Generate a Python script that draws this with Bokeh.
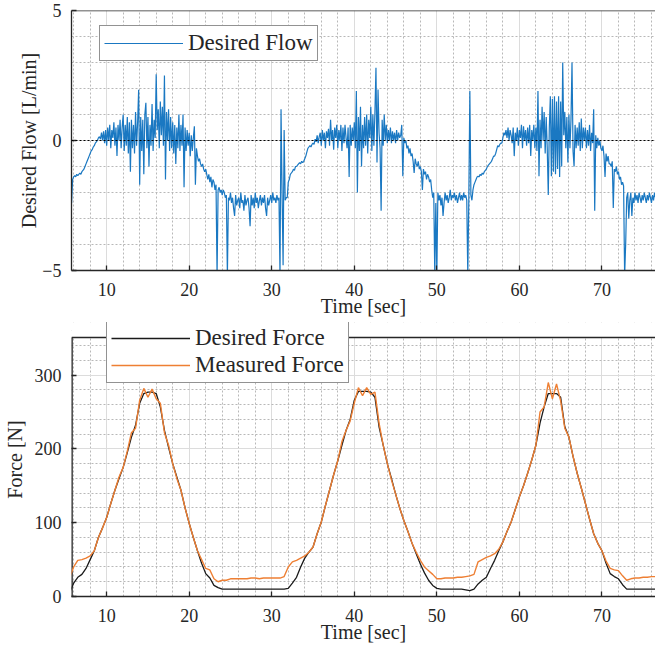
from bokeh.plotting import figure
from bokeh.models import (ColumnDataSource, Legend, LegendItem, Range1d,
                          SingleIntervalTicker, Span, BoxAnnotation)
from bokeh.layouts import column
from bokeh.embed import file_html
from bokeh.resources import INLINE

FONT = "Liberation Serif"

# ---------------- data ----------------
FLOW_T0 = 5.75
FLOW_DT = 0.125
FLOW = [
    -2.4, -1.5,
    -1.4, -1.35, -1.4, -1.3, -1.35, -1.3, -1.25, -1.3,          # 6
    -1.2, -1.15, -1.1, -1.0, -0.9, -0.8, -0.7, -0.6,            # 7
    -0.5, -0.4, -0.35, -0.25, -0.2, -0.1, -0.05, 0.0,           # 8
    0.1, 0.15, 0.05, 0.3, 0.0, 0.35, -0.1, 0.4,                 # 9
    -0.2, 0.5, 0.0, 0.6, -0.3, 0.4, 0.1, 0.7,                   # 10
    -0.2, 0.5, -0.6, 0.6, 0.0, 0.8, -0.3, 0.5,                  # 11
    1.0, -0.4, 0.6, -0.2, 0.9, -0.5, 0.7, -1.2,                 # 12
    0.8, -0.3, 0.6, -0.5, 1.1, -0.2, 0.7, 1.95,                 # 13
    -1.7, 0.9, -0.4, 0.8, -1.3, 1.0, 1.45, -0.3,                # 14
    0.9, -1.0, 0.6, -0.2, 1.4, -0.4, 0.8, 0.1,                  # 15
    2.55, 0.4, 1.2, -0.3, 1.5, 0.2, 1.3, -0.2,                  # 16
    2.5, -1.5, 1.1, 0.0, 1.2, -0.4, 0.9, -0.3,                  # 17
    0.7, -0.5, 0.6, -0.9, 0.5, -0.3, 1.0, -0.4,                 # 18
    0.6, -0.2, 1.0, -1.8, 0.5, -0.4, 0.4, -0.2,                 # 19
    0.3, -0.6, 0.2, -0.4, 0.1, 0.55, -1.7, -0.3,                # 20
    -0.6, -0.8, -0.7, -0.9, -1.0, -0.9, -1.1, -1.2,             # 21
    -1.1, -1.3, -1.5, -1.3, -1.6, -1.4, -1.8, -1.5,             # 22
    -1.6, -1.9, -1.7, -5.2, -1.9, -1.8, -2.0, -1.9,             # 23
    -2.1, -1.9, -2.0, -2.2, -2.1, -5.2, -2.2, -2.3,             # 24
    -2.0, -2.4, -2.2, -2.6, -2.9, -2.1, -2.5, -2.3,             # 25
    -2.2, -2.6, -2.0, -2.4, -2.3, -2.7, -2.1, -2.5,             # 26
    -2.3, -2.2, -2.6, -3.3, -2.1, -2.5, -2.2, -2.6,             # 27
    -2.0, -2.4, -2.2, -2.6, -2.3, -2.1, -2.5, -2.2,             # 28
    -2.4, -2.1, -2.6, -2.9, -2.2, -2.5, -2.3, -2.1,             # 29
    -2.4, -2.0, -2.3, -2.2, -2.4, -2.1, -2.3, -2.2,             # 30
    -5.2, 1.2, -2.0, -4.8, 0.4, -2.3, -2.2, -2.2,               # 31
    -1.6, -1.5, -1.3, -1.25, -1.2, -1.1, -1.15, -1.0,           # 32
    -1.0, -0.95, -0.9, -0.85, -0.9, -0.8, -0.85, -0.8,          # 33
    -0.7, -0.6, -0.45, -0.3, -0.25, -0.2, -0.25, -0.15,         # 34
    -0.1, -0.15, 0.05, -0.05, 0.2, -0.1, 0.15, 0.3,             # 35
    -0.2, 0.4, 0.0, 0.3, -0.3, 0.35, 0.1, 0.45,                 # 36
    -0.2, 0.8, 0.0, 0.4, -0.35, 0.5, 0.1, 0.6,                  # 37
    -0.3, 0.4, 0.0, 0.6, -0.4, 0.5, -0.1, 0.6,                  # 38
    0.1, -0.3, 0.5, -1.4, 0.6, -0.2, 0.5, 0.0,                  # 39
    0.7, -0.3, 1.9, -2.0, 0.9, -0.4, 1.3, -1.0,                 # 40
    0.6, -0.3, 0.9, -0.2, 1.0, -0.5, 0.8, 0.1,                  # 41
    1.3, -0.4, 1.0, -0.2, 1.1, 2.8, -0.85, 1.96,                # 42
    0.3, -0.3, -2.7, 0.8, -0.2, 1.0, 0.0, 0.6,                  # 43
    -0.1, 0.4, 0.0, 0.5, -0.1, 0.35, 0.0, 0.3,                  # 44
    -0.1, 0.4, 0.0, 0.3, 0.1, 0.2, 0.6, -1.37,                  # 45
    0.1, -0.1, 0.0, -0.3, -0.2, -0.5, -0.3, -0.6,               # 46
    -0.5, -0.8, -1.25, -0.7, -0.9, -1.0, -0.8, -1.1,            # 47
    -1.0, -1.2, -1.9, -1.1, -1.3, -1.2, -1.5, -1.3,             # 48
    -1.4, -1.6, -1.5, -1.9, -2.2, -2.0, -5.2, -2.4,             # 49
    -5.2, -2.0, -2.3, -2.1, -2.5, -2.2, -2.9, -2.4,             # 50
    -2.0, -2.3, -2.1, -2.4, -2.2, -1.9, -2.3, -2.1,             # 51
    -2.2, -2.0, -2.3, -2.1, -2.4, -2.2, -2.0, -2.3,             # 52
    -2.1, -2.3, -2.0, -2.2, -2.1, -2.3, -5.2, -2.2,             # 53
    1.9, -2.1, -2.3, -1.9, -1.7, -1.6, -1.5, -1.4,              # 54
    -1.37, -1.4, -1.3, -1.35, -1.25, -1.3, -1.2, -1.15,         # 55
    -1.1, -1.0, -0.95, -0.9, -0.85, -0.8, -0.7, -0.6,           # 56
    -0.6, -0.5, -0.35, -0.2, -0.25, -0.15, -0.1, -0.1,          # 57
    0.1, 0.3, 0.2, 0.4, 0.1, 0.5, 0.0, 0.4,                     # 58
    0.2, -0.1, 0.5, -0.6, 0.3, 0.0, 0.5, -0.2,                  # 59
    0.4, 0.1, 0.6, -0.3, 0.55, 0.0, 0.4, -0.2,                  # 60
    0.5, -0.1, 0.6, -0.6, 0.4, 0.0, 0.6, -0.3,                  # 61
    0.5, -0.4, 1.9, -1.37, 0.8, -0.3, 1.3, 0.0,                 # 62
    1.1, -0.5, 0.9, -0.3, -2.1, 0.5, 1.7, -1.37,                # 63
    1.6, -1.2, 1.7, -1.3, 1.5, -1.1, 1.7, -1.4,                 # 64
    1.5, -1.0, 3.0, 0.2, 1.1, -0.3, 0.9, -0.85,                 # 65
    1.0, -0.3, 0.8, 3.0, -0.4, -1.0, 0.6, -0.3,                 # 66
    0.5, -0.2, 0.7, -0.4, 0.85, -0.3, 0.5, 0.0,                 # 67
    0.5, -0.3, 0.4, -0.2, 0.6, -0.4, 0.3, -0.1,                 # 68
    1.2, -2.7, 0.2, -0.3, 0.1, -0.2, 0.0, -0.3,                 # 69
    -0.4, -0.2, -0.6, -1.4, -0.5, -0.8, -0.6, -0.9,             # 70
    -0.9, -1.0, -0.8, -2.6, -1.1, -1.2, -1.0, -1.3,             # 71
    -1.2, -1.5, -1.4, -1.7, -1.6, -1.75, -5.2, -4.0,            # 72
    -2.2, -2.0, -3.0, -2.3, -2.0, -2.9, -2.2, -2.4,             # 73
    -2.0, -2.3, -2.1, -2.4, -2.0, -2.2, -2.4, -2.1,             # 74
    -2.3, -2.0, -2.2, -2.4, -2.1, -2.3, -2.0, -2.2,             # 75
    -2.4, -2.1, -2.3, -2.0, -2.2, -2.4, -2.1, -2.3,             # 76
    -2.2,
]

FORCE_T0 = 5.5
FORCE_DT = 0.5
DESIRED_FORCE = [
    5,
    18, 26, 30, 38, 50, 62, 80, 93, 107, 126,          # 6-10
    144, 160, 175, 195, 216, 232, 262, 275, 277, 277,  # 11-15
    275, 257, 225, 202, 180, 162, 144, 120, 99, 80,    # 16-20
    62, 45, 31, 25, 15, 12, 10, 10, 10, 10,            # 21-25
    10, 10, 10, 10, 10, 10, 10, 10, 10, 10,            # 26-30
    10, 10, 11, 18, 26, 40, 52, 60, 67, 85,            # 31-35
    101, 123, 144, 165, 184, 205, 225, 240, 266, 278,  # 36-40
    278, 278, 277, 270, 230, 205, 180, 160, 139, 120,  # 41-45
    103, 88, 72, 58, 44, 32, 22, 15, 11, 10,           # 46-50
    10, 10, 10, 10, 10, 9, 8, 10, 17, 22,              # 51-55
    26, 38, 49, 62, 74, 88, 101, 118, 135, 150,        # 56-60
    167, 185, 205, 235, 257, 275, 275, 275, 270, 230,  # 61-65
    216, 190, 167, 147, 126, 105, 85, 72, 62, 45,      # 66-70
    31, 27, 24, 16, 10, 10, 10, 10, 10, 10,            # 71-75
    10, 10, 10,                                        # 76-77
]
MEASURED_FORCE = [
    25,
    40, 49, 50, 52, 55, 62, 80, 93, 107, 126,          # 6-10
    144, 162, 175, 197, 222, 228, 266, 282, 270, 281,  # 11-15
    268, 262, 222, 205, 180, 160, 144, 120, 99, 80,    # 16-20
    62, 50, 38, 36, 24, 20, 22, 22, 24, 24,            # 21-25
    24, 24, 24, 25, 25, 24, 25, 25, 25, 25,            # 26-30
    25, 27, 40, 47, 49, 52, 55, 60, 67, 85,            # 31-35
    101, 123, 144, 165, 184, 210, 225, 238, 262, 283,  # 36-40
    272, 283, 274, 277, 235, 205, 180, 158, 139, 120,  # 41-45
    103, 88, 72, 60, 49, 40, 35, 30, 24, 24,           # 46-50
    25, 25, 25, 26, 26, 27, 28, 30, 47, 50,            # 51-55
    53, 55, 58, 64, 74, 88, 101, 118, 135, 150,        # 56-60
    167, 185, 205, 250, 257, 290, 268, 288, 265, 228,  # 61-65
    216, 190, 167, 147, 126, 105, 85, 72, 62, 48,      # 66-70
    38, 36, 35, 28, 22, 24, 25, 25, 26, 26,            # 71-75
    27, 27, 27,                                        # 76-77
]

X_RANGE = (5.74, 76.49)
FLOW_RANGE = (-5, 5)
FORCE_TOP = 351          # top edge of the force axes box
FORCE_VIEW = (0, 371.3)  # a little head-room so the legend can sit over the box edge

flow_src = ColumnDataSource(dict(
    t=[FLOW_T0 + FLOW_DT * i for i in range(len(FLOW))], v=FLOW))
force_src = ColumnDataSource(dict(
    t=[FORCE_T0 + FORCE_DT * i for i in range(len(DESIRED_FORCE))],
    d=DESIRED_FORCE, m=MEASURED_FORCE))

AX = "#262626"


def style(p, y_interval):
    p.outline_line_color = None
    p.background_fill_color = "white"
    p.border_fill_color = "white"
    p.xaxis.ticker = SingleIntervalTicker(interval=10, num_minor_ticks=5)
    p.yaxis.ticker = SingleIntervalTicker(interval=y_interval, num_minor_ticks=5)
    for ax in (p.xaxis[0], p.yaxis[0]):
        ax.axis_line_color = AX
        ax.axis_line_width = 1.3
        ax.major_tick_line_color = AX
        ax.major_tick_line_width = 1.3
        ax.major_tick_in = 5
        ax.major_tick_out = 0
        ax.minor_tick_line_color = None
        ax.major_label_text_font = FONT
        ax.major_label_text_font_size = "18px"
        ax.major_label_text_color = "#262626"
        ax.axis_label_text_font = FONT
        ax.axis_label_text_font_size = "20px"
        ax.axis_label_text_font_style = "normal"
        ax.axis_label_text_color = "#262626"
    p.xaxis.major_label_standoff = 8
    p.xaxis.axis_label_standoff = -4
    p.yaxis.major_label_standoff = 6
    for g in (p.xgrid[0], p.ygrid[0]):
        g.grid_line_color = "#dcdcdc"
        g.grid_line_width = 1
        g.minor_grid_line_color = "#b8b8b8"
        g.minor_grid_line_dash = "2 2"
        g.minor_grid_line_width = 1


def legend(p, items, loc):
    lg = Legend(items=items, location=loc, margin=0, padding=4, spacing=1,
                glyph_width=79, glyph_height=18, label_standoff=5,
                label_text_font=FONT, label_text_font_size="23px",
                label_text_color="#262626", label_height=18,
                border_line_color=AX, border_line_width=1.3,
                background_fill_color="white", background_fill_alpha=1)
    p.add_layout(lg, "center")


# ---------------- top plot ----------------
p1 = figure(width=655, height=320, output_backend="svg", toolbar_location=None,
            x_range=Range1d(*X_RANGE), y_range=Range1d(*FLOW_RANGE),
            min_border_top=10, min_border_left=69, min_border_right=0,
            min_border_bottom=50)
style(p1, 5)
p1.yaxis.axis_label_standoff = -1
p1.below[0].axis_label = "Time [sec]"
p1.left[0].axis_label = "Desired Flow [L/min]"
p1.add_layout(Span(location=FLOW_RANGE[1], dimension="width", line_color=AX,
                   line_width=1.3))
p1.add_layout(Span(location=0, dimension="width", line_color="black",
                   line_dash="2 2", line_width=1.2))
r_flow = p1.line("t", "v", source=flow_src, line_color="#1a78c2", line_width=1.2)
legend(p1, [LegendItem(label="Desired Flow", renderers=[r_flow])], (28, 209))

# ---------------- bottom plot ----------------
p2 = figure(width=655, height=326, output_backend="svg", toolbar_location=None,
            x_range=Range1d(*X_RANGE), y_range=Range1d(*FORCE_VIEW),
            min_border_top=2, min_border_left=69, min_border_right=0,
            min_border_bottom=50)
style(p2, 100)
p2.yaxis.axis_label_standoff = 6
p2.left[0].axis_line_color = None
p2.below[0].axis_label = "Time [sec]"
p2.left[0].axis_label = "Force [N]"
# left edge of the box, only up to its top (frame-clipped, so half of it shows)
p2.segment(x0=[X_RANGE[0]], y0=[FORCE_VIEW[0]], x1=[X_RANGE[0]], y1=[FORCE_TOP],
           line_color=AX, line_width=2.6)
r_d = p2.line("t", "d", source=force_src, line_color="#1a1a1a", line_width=1.3)
r_m = p2.line("t", "m", source=force_src, line_color="#ee7f33", line_width=1.4)
# blank strip above the box, then the box's top edge
p2.add_layout(BoxAnnotation(bottom=FORCE_TOP, fill_color="white", fill_alpha=1,
                            line_color=None))
p2.add_layout(Span(location=FORCE_TOP, dimension="width", line_color=AX,
                   line_width=1.3))
legend(p2, [LegendItem(label="Desired Force", renderers=[r_d]),
            LegendItem(label="Measured Force", renderers=[r_m])], (35, 213))

layout = column(p1, p2, spacing=0)
open("out.html", "w").write(file_html(layout, INLINE))
